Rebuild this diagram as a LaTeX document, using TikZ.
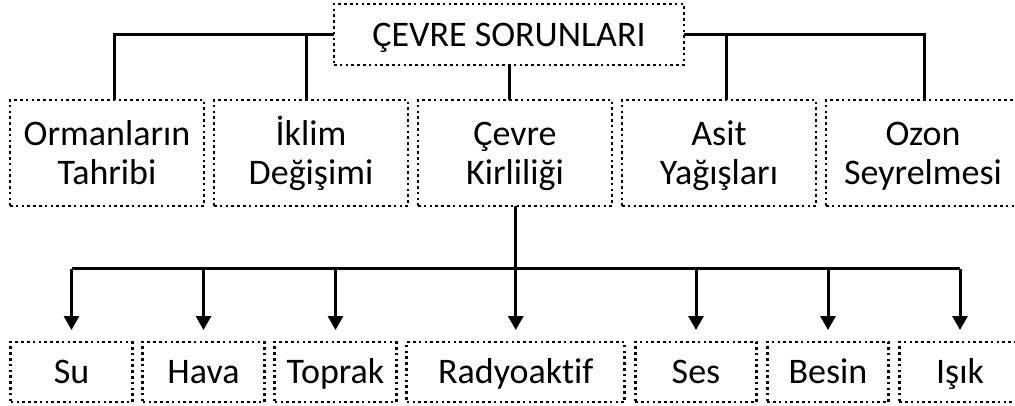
\documentclass[tikz,border=0pt]{standalone}
\usepackage{fontspec}
\setmainfont{Carlito}[Ligatures=CommonOff]
\usetikzlibrary{arrows.meta,positioning}

\begin{document}
\begin{tikzpicture}[x=1pt, y=-1pt, >={Triangle[width=15pt,length=14pt]},
  box/.style={draw, line width=2.6pt, dash pattern=on 2.6pt off 3.2pt,
    align=center, inner sep=0pt, outer sep=0pt,
    font=\fontsize{36}{39}\selectfont},
  midbox/.style={box, minimum width=194pt, minimum height=106pt,
    text height=66pt, text depth=2pt},
  leafbox/.style={box, minimum width=121.5pt, minimum height=60pt,
    text height=27pt, text depth=5pt},
  link/.style={line width=3pt}
]
\useasboundingbox (0,0) rectangle (1015,406);

\node[box, minimum width=350pt, minimum height=61pt, text height=27pt,
  text depth=3pt] (top) at (509,34.5) {ÇEVRE SORUNLARI};

% middle row
\node[midbox] (orm) at (107,153) {Ormanların\\Tahribi};
\node[midbox, right=10pt of orm] (ikl) {İklim\\Değişimi};
\node[midbox, right=10pt of ikl] (cev) {Çevre\\Kirliliği};
\node[midbox, right=10pt of cev] (asit) {Asit\\Yağışları};
\node[midbox, right=10pt of asit] (ozon) {Ozon\\Seyrelmesi};

% bottom row
\node[leafbox] (su) at (71.5,372) {Su};
\node[leafbox, right=10.5pt of su] (hava) {Hava};
\node[leafbox, right=10.5pt of hava] (toprak) {Toprak};
\node[leafbox, minimum width=218pt, right=10.5pt of toprak] (radyo) {Radyoaktif};
\node[leafbox, right=10.5pt of radyo] (ses) {Ses};
\node[leafbox, right=10.5pt of ses] (besin) {Besin};
\node[leafbox, right=10.5pt of besin] (isik) {Işık};

% top links
\draw[link] (top.west) -| ([xshift=7pt]orm.north);
\draw[link] ([xshift=-5pt]ikl.north) -- ([xshift=-5pt]ikl.north |- top.west);
\draw[link] (top.east) -| ([xshift=1pt]ozon.north);
\draw[link] ([xshift=7pt]asit.north) -- ([xshift=7pt]asit.north |- top.east);
\draw[link] (top.south) -- (top.south |- cev.north);

% bottom links
\draw[link] (cev.south) -- ++(0,63) coordinate (hub);
\draw[link] (su.north |- hub) -- (isik.north |- hub);
\foreach \leaf in {su,hava,toprak,radyo,ses,besin,isik}
  \draw[link,->] (\leaf.north |- hub) -- ([yshift=12pt]\leaf.north);
\end{tikzpicture}
\end{document}
